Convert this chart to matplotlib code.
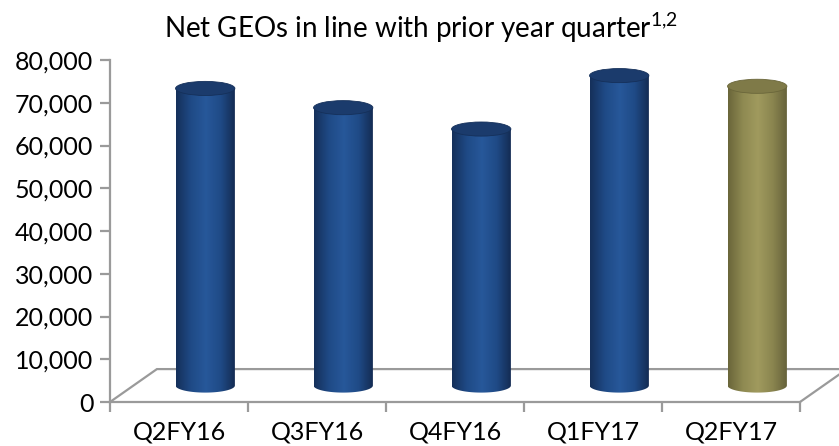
import numpy as np
import matplotlib
matplotlib.use("Agg")
import matplotlib.pyplot as plt
from matplotlib.colors import LinearSegmentedColormap
from matplotlib.patches import Ellipse, PathPatch
from matplotlib.path import Path
from matplotlib.ticker import FuncFormatter, MultipleLocator

plt.rcParams['font.family'] = ['Lato', 'DejaVu Sans']

# data
quarters = ["Q2FY16", "Q3FY16", "Q4FY16", "Q1FY17", "Q2FY17"]
net_geos = [69500, 65000, 60000, 72500, 70000]
bar_kind = ["blue", "blue", "blue", "blue", "gold"]

shades = {
    "blue": ["#15305a", "#1f4a86", "#27589a", "#1f4a86", "#132a50"],
    "gold": ["#6a663a", "#8f8a52", "#a09a5e", "#8a854f", "#64603a"],
}
tops = {"blue": "#1b3b6c", "gold": "#7f7a48"}

fig = plt.figure(figsize=(8.39, 4.46), dpi=100)
ax = fig.add_axes([110 / 839, 44 / 446, 690 / 839, 342 / 446])
ax.set_xlim(-0.5, 4.5)
ax.set_ylim(0, 80000)

grey = "#9a9a9a"
# floor of the 3d box (oblique offset)
dx = 0.34
dy = 7700
ax.plot([-0.5, -0.5 + dx, 4.5 + dx, 4.5], [0, dy, dy, 0], color=grey, lw=1.6,
        clip_on=False, zorder=1, solid_joinstyle="miter")

# cylinders
w = 0.43
eh = 3300  # ellipse height in data units
base = dy / 2
for i, (v, k) in enumerate(zip(net_geos, bar_kind)):
    cx = i + dx / 2 + 0.02
    x0, x1 = cx - w / 2, cx + w / 2
    top = base + v
    cmap = LinearSegmentedColormap.from_list("c%d" % i, shades[k])
    grad = np.linspace(0, 1, 200).reshape(1, -1)
    # body outline: rectangle with rounded bottom
    t = np.linspace(np.pi, 2 * np.pi, 40)
    verts = [(x0, top)] + [(cx + w / 2 * np.cos(a), base + eh / 2 * np.sin(a)) for a in t] + [(x1, top), (x0, top)]
    codes = [Path.MOVETO] + [Path.LINETO] * (len(verts) - 2) + [Path.CLOSEPOLY]
    body = PathPatch(Path(verts, codes), facecolor="none", edgecolor="none", zorder=2)
    ax.add_patch(body)
    im = ax.imshow(grad, cmap=cmap, aspect="auto", extent=[x0, x1, base - eh, top],
                   zorder=2, interpolation="bicubic")
    im.set_clip_path(body)
    ax.add_patch(Ellipse((cx, top), w, eh, facecolor=tops[k], edgecolor=shades[k][0],
                         lw=0.6, zorder=3))

ax.set_xlim(-0.5, 4.5)
ax.set_ylim(0, 80000)

for s in ["top", "right"]:
    ax.spines[s].set_visible(False)
for s in ["left", "bottom"]:
    ax.spines[s].set_color(grey)
    ax.spines[s].set_linewidth(1.6)

ax.yaxis.set_major_locator(MultipleLocator(10000))
ax.yaxis.set_major_formatter(FuncFormatter(lambda y, p: "{:,.0f}".format(y)))
ax.tick_params(axis="y", length=7, width=1.6, color=grey, labelsize=18, pad=5,
               labelcolor="black")

ax.set_xticks(range(len(quarters)))
ax.set_xticklabels(quarters)
ax.set_xticks(np.arange(-0.5, 5, 1), minor=True)
ax.tick_params(axis="x", which="major", length=0, labelsize=18, pad=13)
ax.tick_params(axis="x", which="minor", length=7, width=1.6, color=grey)

fig.text(421 / 839, 1 - 28 / 446, r"Net GEOs in line with prior year quarter$^{\mathregular{1{,}2}}$",
         ha="center", va="center", fontsize=20)

fig.savefig("out.png", dpi=100)
